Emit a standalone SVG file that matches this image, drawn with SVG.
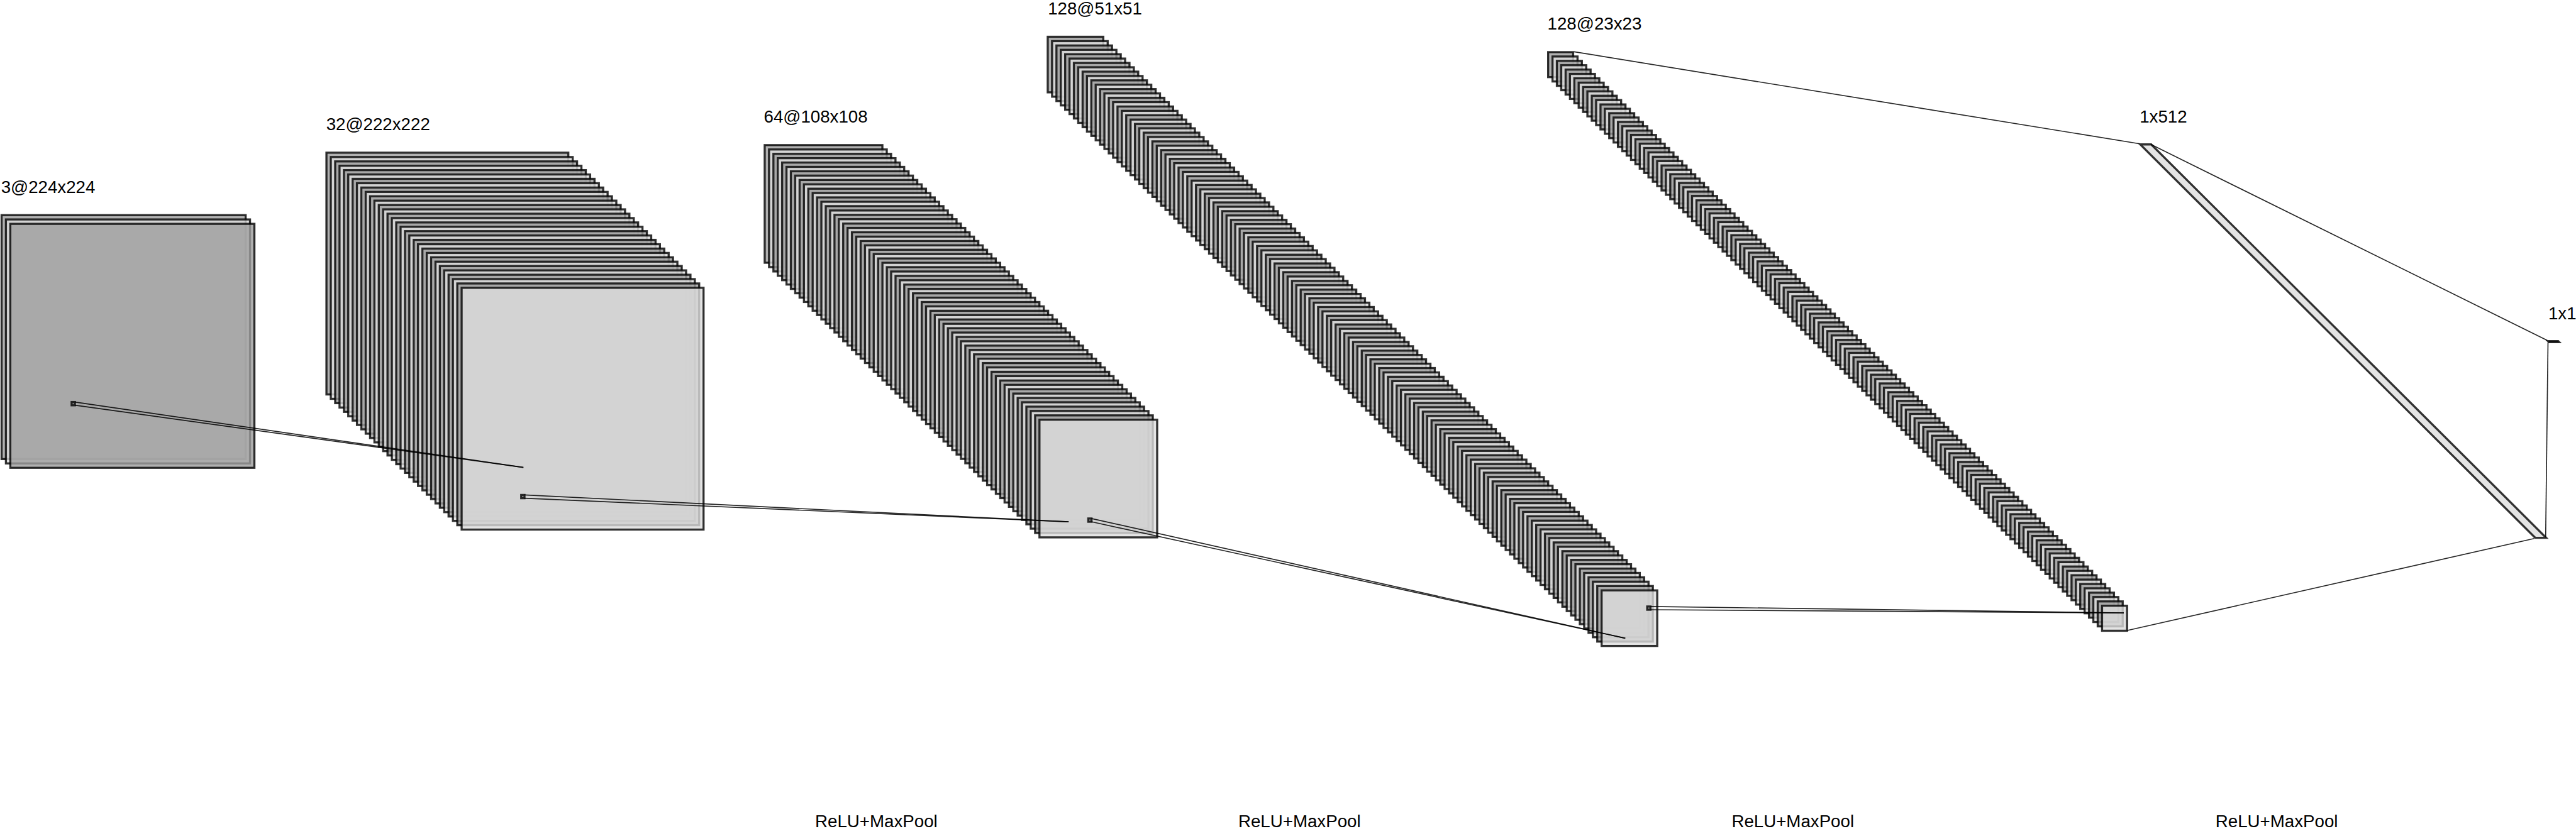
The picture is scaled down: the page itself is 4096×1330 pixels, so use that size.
<svg xmlns="http://www.w3.org/2000/svg" xmlns:xlink="http://www.w3.org/1999/xlink" width="4096" height="1330" viewBox="0 0 4096 1330">
<style>
.m{fill:#9e9e9e;fill-opacity:.8;stroke:#000;stroke-opacity:.8;stroke-width:4}
.l{fill:#dddddd;fill-opacity:.8;stroke:#000;stroke-opacity:.8;stroke-width:4}
.d{fill:#000;fill-opacity:.8;stroke:#000;stroke-opacity:.8;stroke-width:4;stroke-linejoin:miter}
.c{fill:none;stroke:#000;stroke-opacity:.85;stroke-width:2}
text{font-family:"Liberation Sans",Arial,sans-serif;font-size:33.3px;fill:#000}
</style>
<defs>
<g id="b0"><rect class="m" width="462.4" height="462.4"/><rect class="l" x="8.337" y="8.337" width="462.4" height="462.4"/></g>
<g id="b1"><use href="#b0"/><use href="#b0" x="16.674" y="16.674"/></g>
<g id="b2"><use href="#b1"/><use href="#b1" x="33.348" y="33.348"/></g>
<g id="b3"><use href="#b2"/><use href="#b2" x="66.696" y="66.696"/></g>
<g id="b4"><use href="#b3"/><use href="#b3" x="133.392" y="133.392"/></g>
<g id="c0"><rect class="m" width="225" height="225"/><rect class="l" x="8.337" y="8.337" width="225" height="225"/></g>
<g id="c1"><use href="#c0"/><use href="#c0" x="16.674" y="16.674"/></g>
<g id="c2"><use href="#c1"/><use href="#c1" x="33.348" y="33.348"/></g>
<g id="c3"><use href="#c2"/><use href="#c2" x="66.696" y="66.696"/></g>
<g id="c4"><use href="#c3"/><use href="#c3" x="133.392" y="133.392"/></g>
<g id="c5"><use href="#c4"/><use href="#c4" x="266.784" y="266.784"/></g>
<g id="e0"><rect class="m" width="106.3" height="106.3"/><rect class="l" x="8.337" y="8.337" width="106.3" height="106.3"/></g>
<g id="e1"><use href="#e0"/><use href="#e0" x="16.674" y="16.674"/></g>
<g id="e2"><use href="#e1"/><use href="#e1" x="33.348" y="33.348"/></g>
<g id="e3"><use href="#e2"/><use href="#e2" x="66.696" y="66.696"/></g>
<g id="e4"><use href="#e3"/><use href="#e3" x="133.392" y="133.392"/></g>
<g id="e5"><use href="#e4"/><use href="#e4" x="266.784" y="266.784"/></g>
<g id="e6"><use href="#e5"/><use href="#e5" x="533.568" y="533.568"/></g>
<g id="f0"><rect class="m" width="47.8" height="47.8"/><rect class="l" x="8.337" y="8.337" width="47.8" height="47.8"/></g>
<g id="f1"><use href="#f0"/><use href="#f0" x="16.674" y="16.674"/></g>
<g id="f2"><use href="#f1"/><use href="#f1" x="33.348" y="33.348"/></g>
<g id="f3"><use href="#f2"/><use href="#f2" x="66.696" y="66.696"/></g>
<g id="f4"><use href="#f3"/><use href="#f3" x="133.392" y="133.392"/></g>
<g id="f5"><use href="#f4"/><use href="#f4" x="266.784" y="266.784"/></g>
<g id="f6"><use href="#f5"/><use href="#f5" x="533.568" y="533.568"/></g>
</defs>
<rect width="4096" height="1330" fill="#fff"/>
<g transform="scale(.83184)">
<g id="input-3x224">
<rect class="m" x="3" y="411.4" width="466.6" height="466.6"/>
<rect class="l" x="11.3" y="419.7" width="466.6" height="466.6"/>
<rect class="m" x="19.7" y="428.1" width="466.6" height="466.6"/>
<text x="2" y="369">3@224x224</text>
</g>
<g id="conv-32x222"><use href="#b4" x="624" y="292"/><text x="623.5" y="249">32@222x222</text></g>
<g id="conv-64x108"><use href="#c5" x="1461.7" y="277.5"/><text x="1460" y="234">64@108x108</text></g>
<g id="conv-128x51"><use href="#e6" x="2002.7" y="70.3"/><text x="2003" y="28">128@51x51</text></g>
<g id="conv-128x23"><use href="#f6" x="2959.3" y="99.7"/><text x="2958" y="56">128@23x23</text></g>
<g id="fc-1x512"><polygon class="l" points="4091,276.2 4112,276.2 4867,1028.5 4846,1028.5"/><text x="4090" y="234">1x512</text></g>
<g id="fc-1x1"><polygon class="d" points="4870.5,652.5 4890,652.5 4892,654.5 4872.5,654.5"/><text x="4871" y="611">1x1</text></g>
<g id="connectors">
<rect class="m" x="136.9" y="768.9" width="6.25" height="6.25"/>
<line class="c" x1="143" y1="769" x2="1000.5" y2="893.9"/>
<line class="c" x1="143" y1="775" x2="1000.5" y2="893.9"/>
<rect class="m" x="996.3" y="946.6" width="6.25" height="6.25"/>
<line class="c" x1="1002" y1="946.6" x2="2042.7" y2="998"/>
<line class="c" x1="1002" y1="952.8" x2="2042.7" y2="998"/>
<rect class="m" x="2080.2" y="991.6" width="6.25" height="6.25"/>
<line class="c" x1="2086" y1="991.6" x2="3106.7" y2="1220.7"/>
<line class="c" x1="2086" y1="997.8" x2="3106.7" y2="1220.7"/>
<rect class="m" x="3148.6" y="1159.9" width="6.25" height="6.25"/>
<line class="c" x1="3154.5" y1="1159.9" x2="4059.7" y2="1172.3"/>
<line class="c" x1="3154.5" y1="1166.1" x2="4059.7" y2="1172.3"/>
<line class="c" x1="3009" y1="99" x2="4090" y2="275"/>
<line class="c" x1="4065" y1="1206" x2="4844" y2="1030"/>
<line class="c" x1="4111" y1="276" x2="4869" y2="651"/>
<line class="c" x1="4866" y1="1028" x2="4870.5" y2="655"/>
</g>
<g id="op-labels">
<text x="1558" y="1582">ReLU+MaxPool</text>
<text x="2367" y="1582">ReLU+MaxPool</text>
<text x="3310" y="1582">ReLU+MaxPool</text>
<text x="4235" y="1582">ReLU+MaxPool</text>
</g>
</g>
</svg>
